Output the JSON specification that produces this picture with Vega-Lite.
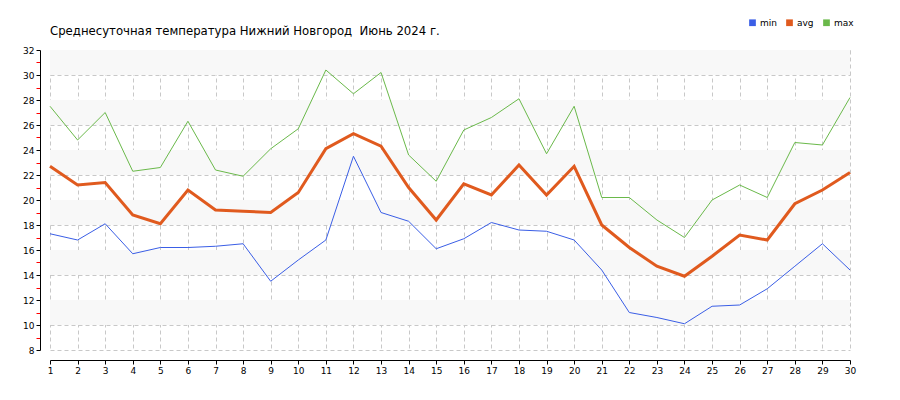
{
  "$schema": "https://vega.github.io/schema/vega-lite/v6.json",
  "width": 800,
  "height": 300,
  "autosize": {"type": "none"},
  "padding": {"left": 50, "top": 50, "right": 50, "bottom": 50},
  "background": "white",
  "title": {"text": "Среднесуточная температура Нижний Новгород \u00a0Июнь 2024 г.", "anchor": "start", "frame": "group", "offset": -20, "fontSize": 13, "font": "DejaVu Sans Condensed", "fontWeight": "normal", "color": "#000000"},
  "config": {
    "view": {"stroke": null},
    "axis": {"labelFont": "DejaVu Sans", "labelColor": "#000000", "domainColor": "#000000", "tickColor": "#000000", "gridColor": "#c8c8c8", "gridDash": [4, 3], "labelOverlap": false}
  },
  "datasets": {
    "bands": [
      {"lo": 30, "hi": 32}, {"lo": 26, "hi": 28}, {"lo": 22, "hi": 24},
      {"lo": 18, "hi": 20}, {"lo": 14, "hi": 16}, {"lo": 10, "hi": 12}
    ],
    "temps": [
      {"day": 1, "min": 17.3, "avg": 22.7, "max": 27.5},
      {"day": 2, "min": 16.8, "avg": 21.2, "max": 24.8},
      {"day": 3, "min": 18.1, "avg": 21.4, "max": 27.0},
      {"day": 4, "min": 15.7, "avg": 18.8, "max": 22.3},
      {"day": 5, "min": 16.2, "avg": 18.1, "max": 22.6},
      {"day": 6, "min": 16.2, "avg": 20.8, "max": 26.3},
      {"day": 7, "min": 16.3, "avg": 19.2, "max": 22.4},
      {"day": 8, "min": 16.5, "avg": 19.1, "max": 21.9},
      {"day": 9, "min": 13.5, "avg": 19.0, "max": 24.1},
      {"day": 10, "min": 15.2, "avg": 20.6, "max": 25.7},
      {"day": 11, "min": 16.8, "avg": 24.1, "max": 30.4},
      {"day": 12, "min": 23.5, "avg": 25.3, "max": 28.5},
      {"day": 13, "min": 19.0, "avg": 24.3, "max": 30.2},
      {"day": 14, "min": 18.3, "avg": 21.0, "max": 23.6},
      {"day": 15, "min": 16.1, "avg": 18.4, "max": 21.5},
      {"day": 16, "min": 16.9, "avg": 21.3, "max": 25.6},
      {"day": 17, "min": 18.2, "avg": 20.4, "max": 26.6},
      {"day": 18, "min": 17.6, "avg": 22.8, "max": 28.1},
      {"day": 19, "min": 17.5, "avg": 20.4, "max": 23.7},
      {"day": 20, "min": 16.8, "avg": 22.7, "max": 27.5},
      {"day": 21, "min": 14.4, "avg": 18.0, "max": 20.2},
      {"day": 22, "min": 11.0, "avg": 16.2, "max": 20.2},
      {"day": 23, "min": 10.6, "avg": 14.7, "max": 18.4},
      {"day": 24, "min": 10.1, "avg": 13.9, "max": 17.0},
      {"day": 25, "min": 11.5, "avg": 15.5, "max": 20.0},
      {"day": 26, "min": 11.6, "avg": 17.2, "max": 21.2},
      {"day": 27, "min": 12.9, "avg": 16.8, "max": 20.2},
      {"day": 28, "min": 14.7, "avg": 19.7, "max": 24.6},
      {"day": 29, "min": 16.5, "avg": 20.8, "max": 24.4},
      {"day": 30, "min": 14.4, "avg": 22.2, "max": 28.2}
    ]
  },
  "layer": [
    {
      "data": {"name": "bands"},
      "mark": {"type": "rect", "color": "#f8f8f8"},
      "encoding": {
        "y": {"field": "lo", "type": "quantitative", "scale": {"domain": [8, 32], "nice": false, "zero": false},
          "axis": {
            "values": [8,9,10,11,12,13,14,15,16,17,18,19,20,21,22,23,24,25,26,27,28,29,30,31,32],
            "offset": 10, "title": null, "labelFontSize": 9, "labelPadding": 2,
            "labelOverlap": false, "labelBound": false,
            "labelExpr": "datum.value % 2 == 0 ? datum.label : ''",
            "tickSize": 4,
            "tickColor": {"condition": {"test": "datum.value % 2 != 0", "value": "#ff0000"}, "value": "#000000"},
            "grid": true,
            "gridOpacity": {"condition": {"test": "datum.value % 2 != 0", "value": 0}, "value": 1}
          }},
        "y2": {"field": "hi"}
      }
    },
    {
      "data": {"name": "temps"},
      "transform": [{"fold": ["min", "avg", "max"], "as": ["series", "t"]}],
      "mark": {"type": "line", "strokeJoin": "miter"},
      "encoding": {
        "x": {"field": "day", "type": "quantitative", "scale": {"domain": [1, 30], "nice": false, "zero": false},
          "axis": {
            "values": [1,2,3,4,5,6,7,8,9,10,11,12,13,14,15,16,17,18,19,20,21,22,23,24,25,26,27,28,29,30],
            "offset": 10, "title": null, "labelFontSize": 9, "labelPadding": 2, "tickSize": 4,
            "labelOverlap": false, "grid": true, "labelFlush": false
          }},
        "y": {"field": "t", "type": "quantitative",
          "axis": {
            "values": [8,9,10,11,12,13,14,15,16,17,18,19,20,21,22,23,24,25,26,27,28,29,30,31,32],
            "offset": 10, "title": null, "labelFontSize": 9, "labelPadding": 2,
            "labelOverlap": false, "labelBound": false,
            "labelExpr": "datum.value % 2 == 0 ? datum.label : ''",
            "tickSize": 4,
            "tickColor": {"condition": {"test": "datum.value % 2 != 0", "value": "#ff0000"}, "value": "#000000"},
            "grid": true,
            "gridOpacity": {"condition": {"test": "datum.value % 2 != 0", "value": 0}, "value": 1}
          }},
        "color": {"field": "series", "type": "nominal",
          "scale": {"domain": ["min", "avg", "max"], "range": ["#3a5ee6", "#e05a1e", "#6ab94a"]},
          "legend": {"orient": "none", "legendX": 698, "legendY": -32, "direction": "horizontal", "title": null,
            "symbolType": "square", "symbolSize": 45, "labelFontSize": 9,
            "labelFont": "DejaVu Sans", "labelColor": "#000000", "columnPadding": 8, "labelOffset": 3,
            "encode": {"symbols": {"update": {"fill": {"scale": "color", "field": "value"}, "fillOpacity": {"value": 1}, "strokeWidth": {"value": 0}}}}}},
        "strokeWidth": {"condition": {"test": "datum.series == 'avg'", "value": 3}, "value": 1}
      }
    }
  ]
}
